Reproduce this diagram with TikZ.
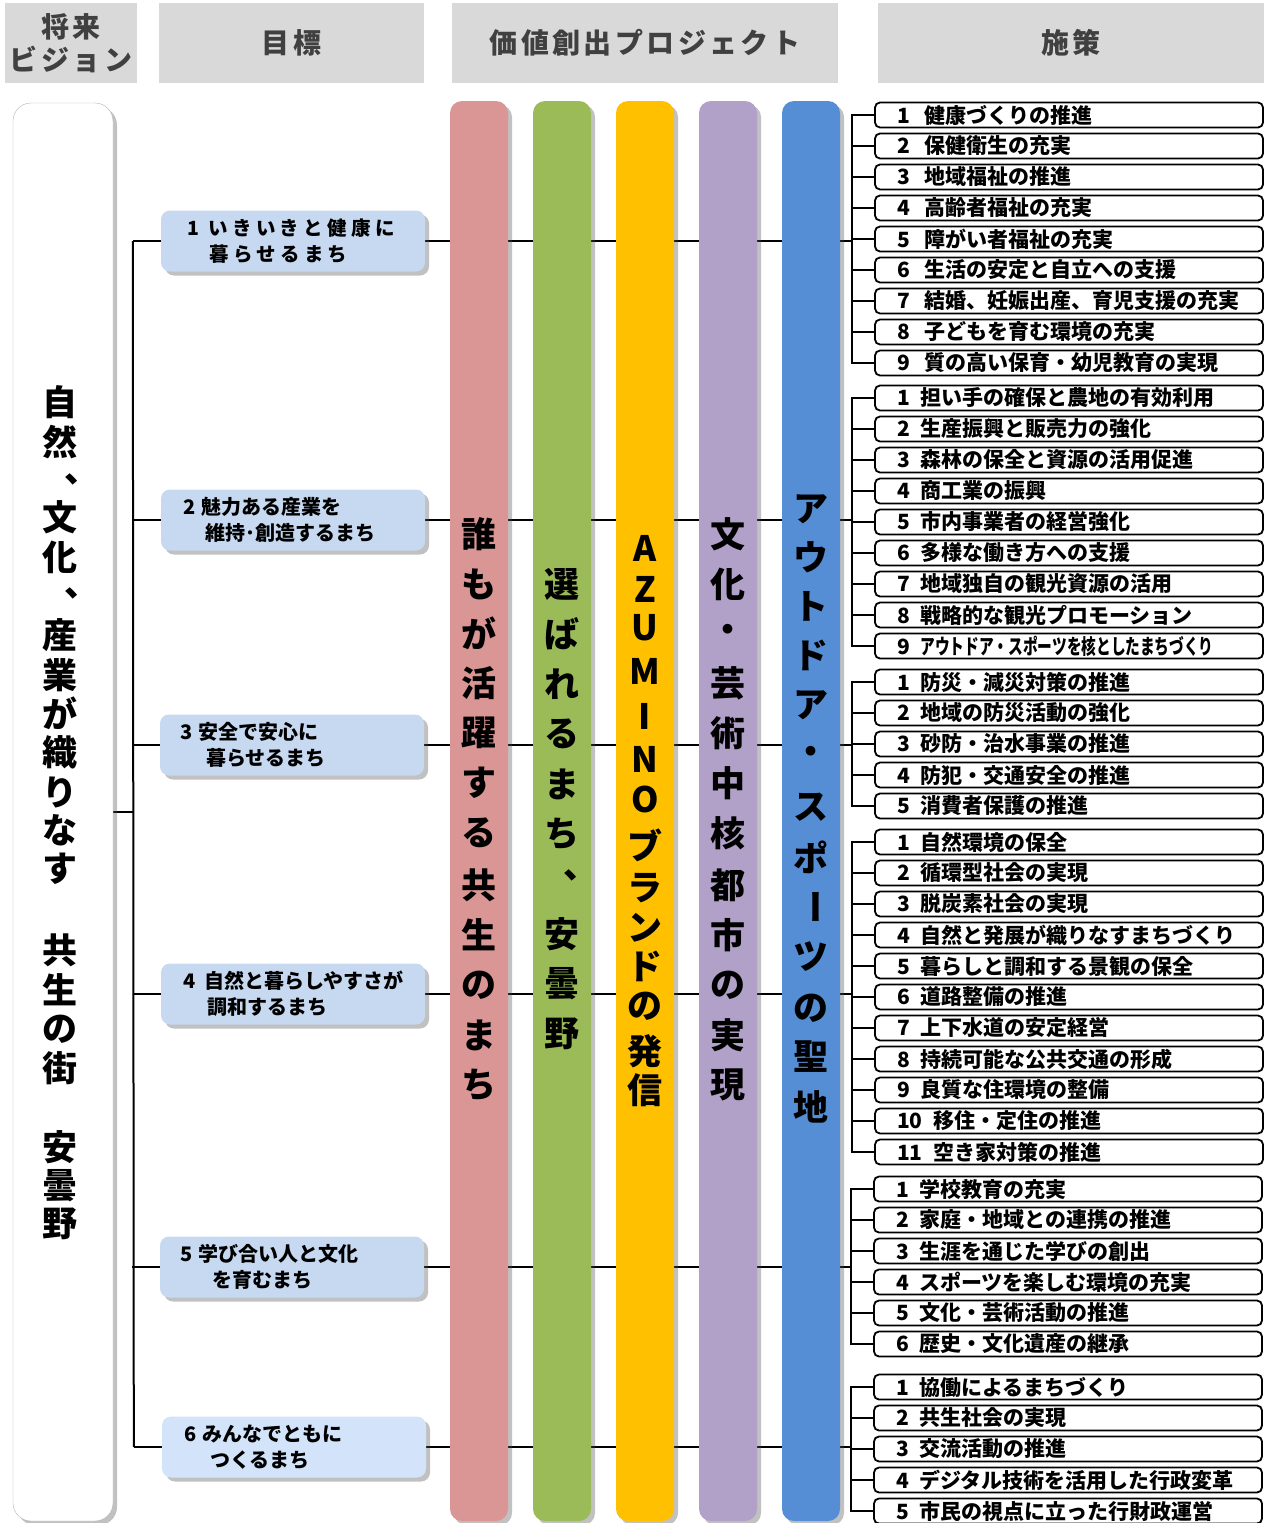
\documentclass[tikz,border=0pt]{standalone}
\usepackage{fontspec}
\usepackage{graphicx}
\setmainfont{Noto Sans CJK JP}
\usetikzlibrary{shadows,backgrounds}
\definecolor{hdrgray}{HTML}{D9D9D9}
\definecolor{hdrtext}{HTML}{404040}
\definecolor{colpink}{HTML}{D99694}
\definecolor{colgreen}{HTML}{9BBB59}
\definecolor{colyellow}{HTML}{FFC000}
\definecolor{colpurple}{HTML}{B1A0C7}
\definecolor{colblue}{HTML}{558ED5}
\definecolor{goalblue}{HTML}{C6D9F0}
\definecolor{goallight}{HTML}{D3E4FA}
\newcommand{\numsp}{\hspace{0.5em}}
\begin{document}
\begin{tikzpicture}[x=1pt,y=-1pt,
  myshadow/.style={drop shadow={shadow xshift=4pt, shadow yshift=-4pt, fill=black!70, opacity=0.35}},
  hdrbox/.style={fill=hdrgray, inner sep=0, text=hdrtext, align=center,
    font=\bfseries\fontsize{28}{33}\selectfont\addfontfeature{LetterSpace=12}},
  goalbox/.style={fill=goalblue, rounded corners=9, minimum width=264, minimum height=61, inner sep=0, myshadow},
  goaltext/.style={anchor=west, align=left, inner sep=0, font=\bfseries\fontsize{20}{26}\selectfont},
  colbox/.style={rounded corners=12, minimum width=58, minimum height=1420, inner sep=0, myshadow},
  ctext/.style={inner sep=0, font=\bfseries\fontsize{35}{35}\selectfont},
  vtext/.style={inner sep=0, font=\bfseries\fontsize{35}{35}\selectfont},
  meas/.style={draw, line width=1.8, rounded corners=5, fill=white, minimum width=388, minimum height=25,
    inner xsep=22, inner ysep=0, font=\bfseries\fontsize{21}{21}\selectfont},
  conn/.style={draw, line width=2},
]
\useasboundingbox (0,0) rectangle (1267,1523);
\clip (0,0) rectangle (1267,1523);

% headers
\node[hdrbox, minimum width=132, minimum height=80] (h1) at (71,43) {将来\\ビジョン};
\node[hdrbox, minimum width=265, minimum height=80] (h2) at (291.5,43) {目標};
\node[hdrbox, minimum width=386, minimum height=80] (h3) at (645,43) {価値創出プロジェクト};
\node[hdrbox, minimum width=386, minimum height=80] (h4) at (1071,43) {施策};

% vision box
\node[draw=black!30, fill=white, rounded corners=18, minimum width=100, minimum height=1418, inner sep=0, myshadow] (v) at (63,812) {};
\foreach \ch/\xx/\yy [count=\i] in {自/60/402, 然/60/442, 、/82/479, 文/60/517, 化/60/557, 、/82/593,
  産/60/635, 業/60/675, が/60/713, 織/60/752, り/60/792, な/60/830, す/60/869,
  共/60/950, 生/60/990, の/60/1029, 街/60/1068, 安/60/1147, 曇/60/1186, 野/60/1224}
  \node[vtext] (vt\i) at (\xx,\yy) {\ch};

% goals
\node[goalbox] (g1) at (293,241) {};
\node[goalbox] (g2) at (293,520) {};
\node[goalbox] (g3) at (292,745) {};
\node[goalbox] (g4) at (293,994) {};
\node[goalbox] (g5) at (292,1267) {};
\node[goalbox, fill=goallight] (g6) at (294,1447) {};
\node[goaltext, font=\bfseries\fontsize{19.5}{26}\selectfont\addfontfeature{LetterSpace=22}] (gt1) at ([xshift=26]g1.west) {1\hspace{0.5em}いきいきと健康に\\\hspace*{1.15em}暮らせるまち};
\node[goaltext] (gt2) at ([xshift=22]g2.west) {2\hspace{0.3em}魅力ある産業を\\\hspace*{1.1em}維持･創造するまち};
\node[goaltext] (gt3) at ([xshift=20]g3.west) {3\hspace{0.3em}安全で安心に\\\hspace*{1.3em}暮らせるまち};
\node[goaltext] (gt4) at ([xshift=22]g4.west) {4\hspace{0.45em}自然と暮らしやすさが\\\hspace*{1.2em}調和するまち};
\node[goaltext] (gt5) at ([xshift=20]g5.west) {5\hspace{0.3em}学び合い人と文化\\\hspace*{1.6em}を育むまち};
\node[goaltext] (gt6) at ([xshift=22]g6.west) {6\hspace{0.3em}みんなでともに\\\hspace*{1.3em}つくるまち};

% columns
\node[colbox, fill=colpink] (c1) at (479,811) {};
\node[colbox, fill=colgreen] (c2) at (562,811) {};
\node[colbox, fill=colyellow] (c3) at (645,811) {};
\node[colbox, fill=colpurple] (c4) at (728,811) {};
\node[colbox, fill=colblue] (c5) at (811,811) {};

\foreach \ch/\yy [count=\i] in {誰/534, も/584, が/633, 活/683, 躍/733, す/783, る/833, 共/885, 生/935, の/985, ま/1035, ち/1085}
  \node[ctext] (pa\i) at (479,\yy) {\ch};
\foreach \ch/\xx/\yy [count=\i] in {選/562/584, ば/562/634, れ/562/684, る/562/734, ま/562/784, ち/562/834, 、/581/875, 安/562/934, 曇/562/984, 野/562/1034}
  \node[ctext] (pb\i) at (\xx,\yy) {\ch};
\foreach \ch/\yy [count=\i] in {A/548, Z/589, U/628, M/671, I/716, N/759, O/799, ブ/845, ラ/888, ン/928, ド/966, の/1006, 発/1051, 信/1090}
  \node[ctext] (pc\i) at (645,\yy) {\ch};
\foreach \ch/\yy [count=\i] in {文/534, 化/584, ・/633, 芸/683, 術/733, 中/783, 核/833, 都/885, 市/935, の/985, 実/1035, 現/1085}
  \node[ctext] (pd\i) at (728,\yy) {\ch};
\foreach \ch/\yy [count=\i] in {ア/509, ウ/557, ト/606, ド/655, ア/705, ・/755, ス/807, ポ/857, ツ/957, の/1008, 聖/1057, 地/1107}
  \node[ctext] (pe\i) at (811,\yy) {\ch};
\node[ctext, rotate=-90] (pebar) at (811,907) {ー};

% measures
\foreach \t [count=\i] in {健康づくりの推進, 保健衛生の充実, 地域福祉の推進, 高齢者福祉の充実, 障がい者福祉の充実,
  生活の安定と自立への支援, 結婚、妊娠出産、育児支援の充実, 子どもを育む環境の充実, 質の高い保育・幼児教育の実現}
  \node[meas] (ma\i) at (1069,{115+31*(\i-1)}) {\makebox[344pt][l]{\i\hspace{0.7em}\t}};
\foreach \t [count=\i] in {担い手の確保と農地の有効利用, 生産振興と販売力の強化, 森林の保全と資源の活用促進, 商工業の振興,
  市内事業者の経営強化, 多様な働き方への支援, 地域独自の観光資源の活用, 戦略的な観光プロモーション,
  {\scalebox{0.7}[1]{アウトドア・スポーツを核としたまちづくり}}}
  \node[meas] (mb\i) at (1069,{398+31*(\i-1)}) {\makebox[344pt][l]{\i\numsp\t}};
\foreach \t [count=\i] in {防災・減災対策の推進, 地域の防災活動の強化, 砂防・治水事業の推進, 防犯・交通安全の推進, 消費者保護の推進}
  \node[meas] (mc\i) at (1069,{682+31*(\i-1)}) {\makebox[344pt][l]{\i\numsp\t}};
\foreach \t [count=\i] in {自然環境の保全, 循環型社会の実現, 脱炭素社会の実現, 自然と発展が織りなすまちづくり,
  暮らしと調和する景観の保全, 道路整備の推進, 上下水道の安定経営, 持続可能な公共交通の形成,
  良質な住環境の整備, 移住・定住の推進, 空き家対策の推進}
  \node[meas] (md\i) at (1069,{842+31*(\i-1)}) {\makebox[344pt][l]{\i\numsp\t}};
\foreach \t [count=\i] in {学校教育の充実, 家庭・地域との連携の推進, 生涯を通じた学びの創出, スポーツを楽しむ環境の充実,
  文化・芸術活動の推進, 歴史・文化遺産の継承}
  \node[meas] (me\i) at (1068,{1189+31*(\i-1)}) {\makebox[344pt][l]{\i\numsp\t}};
\foreach \t [count=\i] in {協働によるまちづくり, 共生社会の実現, 交流活動の推進, デジタル技術を活用した行政変革, 市民の視点に立った行財政運営}
  \node[meas] (mf\i) at (1068,{1387+31*(\i-1)}) {\makebox[344pt][l]{\i\numsp\t}};

% connectors (behind)
\begin{pgfonlayer}{background}
  \coordinate (trk) at ([xshift=-28]g1.west |- v.east);
  \draw[conn] (v.east) -- (trk);
  \draw[conn] ([xshift=-28]g1.west) -- ([xshift=-28]g6.west);
  \foreach \i in {1,...,6} \draw[conn] (g\i.west) -- ++(-28,0);
  \foreach \g/\n/\k in {a/9/1, b/9/2, c/5/3, d/11/4, e/6/5, f/5/6} {
    \draw[conn] (m\g1.west) -- ([xshift=-22]m\g1.west) -- ([xshift=-22]m\g\n.west) -- (m\g\n.west);
    \foreach \j in {1,...,\n} \draw[conn] (m\g\j.west) -- ++(-22,0);
    \coordinate (bk\k) at ([xshift=-22]m\g1.west |- g\k.east);
    \draw[conn] (g\k.east) -- (bk\k);
  }
\end{pgfonlayer}
\end{tikzpicture}
\end{document}
